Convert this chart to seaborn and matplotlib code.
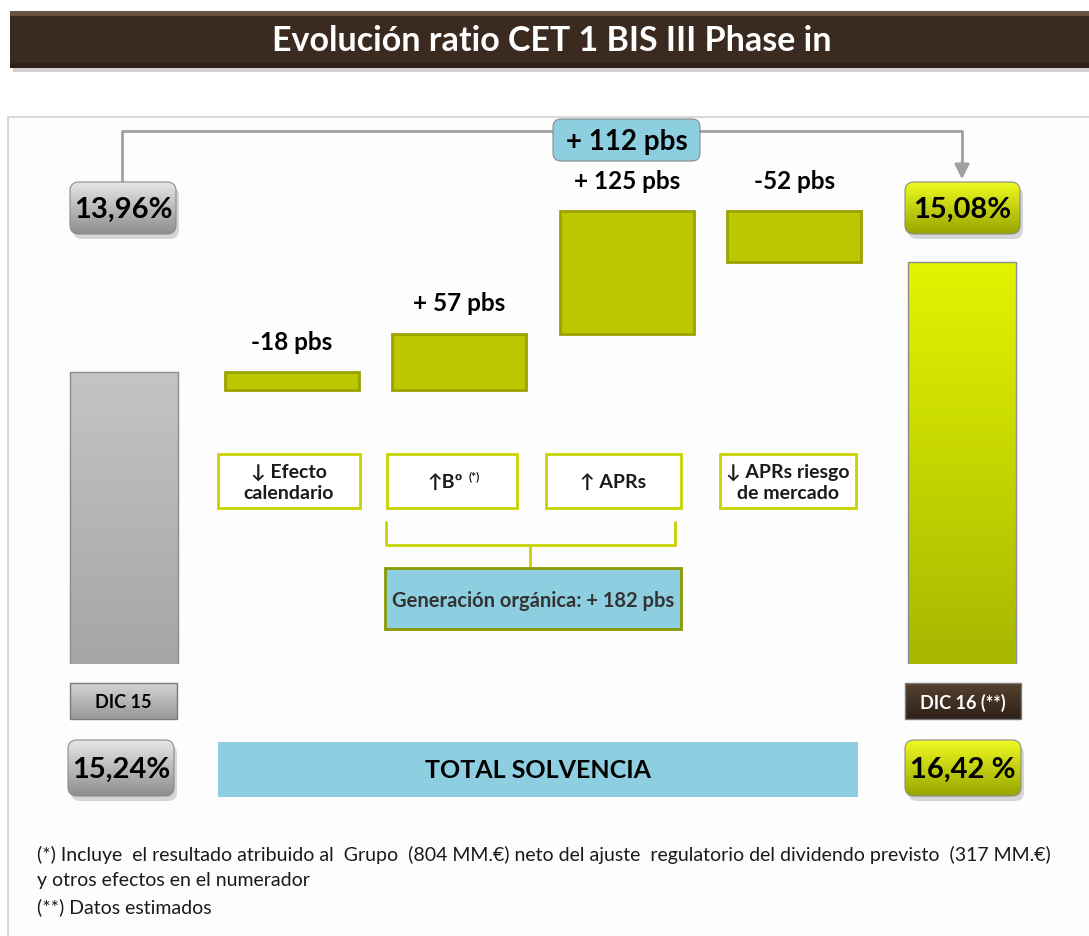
import numpy as np
import pandas as pd
import matplotlib
matplotlib.use('Agg')
import matplotlib.pyplot as plt
from matplotlib.patches import FancyBboxPatch, Rectangle
from matplotlib.colors import LinearSegmentedColormap
import seaborn as sns

# ---- data ----
period_labels = ['DIC 15', 'DIC 16 (**)']
cet1_ratio = [13.96, 15.08]          # %
step_labels = ['↓ Efecto\ncalendario', '↑Bº', '↑ APRs', '↓ APRs riesgo\nde mercado']
step_pbs = [-18, 57, 125, -52]       # basis points
organic_idx = [1, 2]                 # steps that make up "Generación orgánica"
solvency_ratio = [15.24, 16.42]      # %

# ---- style ----
sns.set_theme(style='white')
plt.rcParams['font.family'] = ['Lato', 'DejaVu Sans']

W, H = 1089, 937
GREEN = '#bcc800'
GREEN_EDGE = '#9aa300'
BLUE = '#8dcfe0'
BROWN = '#3b2a1f'


def pct(v, space=False):
    return f"{v:.2f}".replace('.', ',') + (' %' if space else '%')


def pbs(v):
    return f"+ {v} pbs" if v > 0 else f"{v} pbs"


def grad_fill(ax, patch, x0, x1, y0, y1, c_top, c_bot, z):
    cmap = LinearSegmentedColormap.from_list('g', [c_top, c_bot])
    im = ax.imshow(np.linspace(0, 1, 64).reshape(-1, 1), cmap=cmap,
                   extent=(x0, x1, y1, y0), aspect='auto', zorder=z,
                   interpolation='bicubic')
    im.set_clip_path(patch)


def round_box(ax, x, y, w, h, c_top, c_bot, text, r=9, color='black', size=21, shadow=True):
    if shadow:
        ax.add_patch(FancyBboxPatch((x + 3, y + 5), w, h, boxstyle=f'round,pad=0,rounding_size={r}',
                                    fc='#bdbdbd', ec='none', alpha=0.6, zorder=2))
    p = FancyBboxPatch((x, y), w, h, boxstyle=f'round,pad=0,rounding_size={r}',
                       fc='none', ec='#8a8a8a', lw=0.8, zorder=3.5)
    ax.add_patch(p)
    grad_fill(ax, p, x, x + w, y, y + h, c_top, c_bot, 3)
    ax.text(x + w / 2, y + h / 2 + 1, text, ha='center', va='center', fontsize=size,
            fontweight='bold', color=color, zorder=4)


fig = plt.figure(figsize=(W / 100, H / 100), dpi=100, facecolor='white')

# background / annotation layer in pixel coordinates
bg = fig.add_axes([0, 0, 1, 1], zorder=0)
bg.set_xlim(0, W)
bg.set_ylim(H, 0)
bg.axis('off')

# title banner
bg.add_patch(Rectangle((13, 15), W, 58, fc='#9a9a9a', ec='none', alpha=0.45, zorder=1))
banner = Rectangle((10, 12), W, 57, fc='none', ec='none', zorder=2)
bg.add_patch(banner)
grad_fill(bg, banner, 10, W, 12, 69, '#6a5646', '#2e2016', 1.5)
bg.add_patch(Rectangle((10, 17), W, 47, fc=BROWN, ec='none', zorder=1.6))
bg.text(552, 41, 'Evolución ratio CET 1 BIS III Phase in', ha='center', va='center',
        color='white', fontsize=24.5, fontweight='bold', zorder=3)

# panel
bg.add_patch(Rectangle((8, 118), W, H, fc='#fdfdfd', ec='#d9d9d9', lw=1.5, zorder=0.5))

# ---- waterfall axes ----
x0_px, x5_px = 124, 962
step_px = (x5_px - x0_px) / 5
px_per_unit = 98
bot_px, top_px = 665, 120
y_bottom = cet1_ratio[0] - (bot_px - 373) / px_per_unit
y_top = y_bottom + (bot_px - top_px) / px_per_unit
ax = fig.add_axes([(x0_px - 0.6 * step_px) / W, (H - bot_px) / H,
                   6.2 * step_px / W, (bot_px - top_px) / H], zorder=1)
ax.patch.set_alpha(0)

order = [period_labels[0]] + [f's{i}' for i in range(len(step_pbs))] + [period_labels[1]]
totals = pd.DataFrame({'period': period_labels, 'ratio': cet1_ratio})
sns.barplot(data=totals, x='period', y='ratio', hue='period', order=order,
            palette=['#b5b5b5', '#d2e300'], width=0.65, legend=False, ax=ax,
            edgecolor='#8c8c8c', linewidth=1)

levels = cet1_ratio[0] + np.cumsum([0] + step_pbs) / 100
for i, v in enumerate(step_pbs):
    lo = min(levels[i], levels[i + 1])
    ax.bar(i + 1, abs(v) / 100, bottom=lo, width=0.8, color=GREEN,
           edgecolor=GREEN_EDGE, linewidth=2, zorder=3)
    ax.annotate(pbs(v), xy=(i + 1, max(levels[i], levels[i + 1])), xytext=(0, 14),
                textcoords='offset points', ha='center', va='bottom',
                fontsize=17.5, fontweight='bold', color='black')

ax.set_xlim(-0.6, 5.6)
ax.set_ylim(y_bottom, y_top)

# gradient shading on the two total bars (kept inside the axes)
for bar, (ct, cb) in zip(ax.patches[:2], [('#c4c4c4', '#a6a6a6'), ('#e2f400', '#a8b700')]):
    bx = bar.get_x()
    grad_fill(ax, bar, bx, bx + bar.get_width(), bar.get_y() + bar.get_height(),
              y_bottom, ct, cb, 2.5)
    bar.set_zorder(2.6)
    bar.set_facecolor('none')

ax.set_xlim(-0.6, 5.6)
ax.set_ylim(y_bottom, y_top)
ax.axis('off')

# ---- annotations ----
# bracket with total change
bg.plot([122, 122, 962, 962], [183, 132, 132, 168], color='#a0a0a0', lw=2, zorder=1)
bg.annotate('', xy=(962, 183), xytext=(962, 160),
            arrowprops=dict(arrowstyle='-|>', color='#a0a0a0', lw=2, mutation_scale=22), zorder=1)
total_pbs = int(round((cet1_ratio[1] - cet1_ratio[0]) * 100))
round_box(bg, 553, 120, 147, 42, BLUE, BLUE, pbs(total_pbs), r=8, size=20, shadow=False)

round_box(bg, 70, 183, 106, 52, '#e6e6e6', '#8e8e8e', pct(cet1_ratio[0]))
round_box(bg, 905, 183, 115, 52, '#eefa20', '#98a600', pct(cet1_ratio[1]))

# step description boxes
box_x = [(218, 360), (387, 517), (546, 681), (720, 856)]
for (xa, xb), lab in zip(box_x, step_labels):
    bg.add_patch(Rectangle((xa, 455), xb - xa, 54, fc='white', ec='#c8d400', lw=2, zorder=2))
    if lab == '↑Bº':
        bg.text((xa + xb) / 2 - 7, 483, lab, ha='center', va='center', fontsize=14,
                fontweight='bold', color='#1a1a1a', zorder=3)
        bg.text((xa + xb) / 2 + 22, 477, '(*)', ha='center', va='center', fontsize=8.5,
                fontweight='bold', color='#1a1a1a', zorder=3)
    else:
        bg.text((xa + xb) / 2, 483, lab, ha='center', va='center', fontsize=14,
                fontweight='bold', color='#1a1a1a', linespacing=1.3, zorder=3)

# organic generation bracket
bg.plot([386, 386, 675, 675], [523, 546, 546, 523], color='#c8d400', lw=2, zorder=2)
bg.plot([530, 530], [546, 569], color='#c8d400', lw=2, zorder=2)
organic = sum(step_pbs[i] for i in organic_idx)
bg.add_patch(Rectangle((385, 569), 296, 61, fc=BLUE, ec='#8a9a00', lw=2, zorder=2))
bg.text(533, 601, f'Generación orgánica: {pbs(organic)}', ha='center', va='center',
        fontsize=14.5, fontweight='bold', color='#333333', zorder=3)

# period labels
for (xa, w), lab, (ct, cb), tc in zip([(70, 107), (905, 116)], period_labels,
                                      [('#d4d4d4', '#989898'), ('#55412f', '#2f2118')],
                                      ['black', 'white']):
    p = Rectangle((xa, 684), w, 36, fc='none', ec='#7a7a7a', lw=1, zorder=3.5)
    bg.add_patch(p)
    grad_fill(bg, p, xa, xa + w, 684, 720, ct, cb, 3)
    bg.text(xa + w / 2, 703, lab, ha='center', va='center', fontsize=13,
            fontweight='bold', color=tc, zorder=4)

# total solvency row
round_box(bg, 68, 741, 106, 56, '#e6e6e6', '#8e8e8e', pct(solvency_ratio[0]))
round_box(bg, 905, 741, 116, 56, '#eefa20', '#98a600', pct(solvency_ratio[1], space=True))
bg.add_patch(Rectangle((218, 743), 640, 55, fc=BLUE, ec='none', zorder=2))
bg.text(538, 771, 'TOTAL SOLVENCIA', ha='center', va='center', fontsize=18,
        fontweight='bold', color='black', zorder=3)

# footnotes
notes = ['(*) Incluye  el resultado atribuido al  Grupo  (804 MM.€) neto del ajuste  regulatorio del dividendo previsto  (317 MM.€)',
         'y otros efectos en el numerador',
         '(**) Datos estimados']
for k, t in enumerate(notes):
    bg.text(37, 855 + k * 26, t, ha='left', va='center', fontsize=14, color='#1a1a1a', zorder=3)

fig.savefig('out.png', dpi=100, facecolor='white')
